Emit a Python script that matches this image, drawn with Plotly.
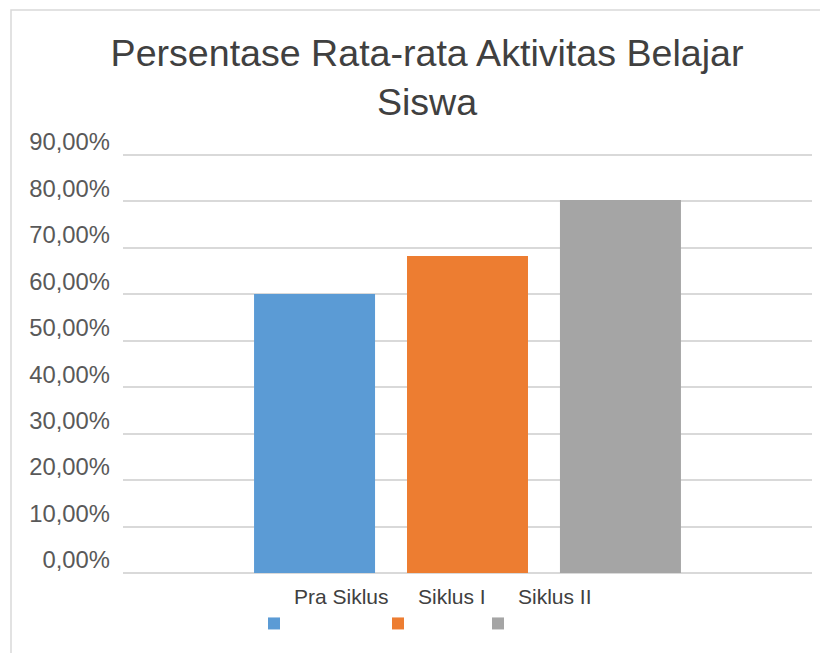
import plotly.graph_objects as go

# Data
series_names = ["Pra Siklus", "Siklus I", "Siklus II"]
series_values = [0.6007, 0.6825, 0.8031]
series_colors = ["#5B9BD5", "#ED7D31", "#A5A5A5"]
category = [""]
tick_values = [i / 10 for i in range(10)]
title_text = "Persentase Rata-rata Aktivitas Belajar<br>Siswa"

# page body has an 8px margin, so the figure is laid out 8px smaller
W, H = 820, 645
L, R, T, B = 115, 16, 145, 80
plot_h = H - T - B
y_top = 0.9 * (plot_h / (plot_h - 2))

legend_ids = ["legend", "legend2", "legend3"]
legend_x = [246, 370, 470]

fig = go.Figure()
for name, val, col, lid in zip(series_names, series_values, series_colors, legend_ids):
    fig.add_trace(go.Bar(
        x=category, y=[val], name=name + "<br>&nbsp;",
        marker=dict(color=col, line=dict(width=0)),
        hoverinfo="y+name", legend=lid,
    ))

legend_common = dict(orientation="h", xref="container", yref="container",
                     xanchor="left", y=1 - 568 / H, yanchor="top",
                     valign="bottom", bgcolor="rgba(0,0,0,0)",
                     font=dict(size=21, color="#404040"))

fig.update_layout(
    width=W, height=H,
    margin=dict(l=L, r=R, t=T, b=B, autoexpand=False),
    paper_bgcolor="white", plot_bgcolor="white",
    separators=",.",
    barmode="group", bargap=0.334, bargroupgap=0.209,
    font=dict(family="Liberation Sans, Arial, sans-serif", color="#595959"),
    title=dict(text=title_text, x=419 / W, xanchor="center",
               y=1 - 58 / H, yanchor="middle", yref="container",
               font=dict(size=37.6, color="#404040")),
    showlegend=True,
    legend=dict(x=legend_x[0] / W, **legend_common),
    legend2=dict(x=legend_x[1] / W, **legend_common),
    legend3=dict(x=legend_x[2] / W, **legend_common),
    xaxis=dict(showticklabels=False, showgrid=False, zeroline=False,
               showline=False, ticks=""),
    yaxis=dict(range=[0, y_top], tickvals=tick_values, tickformat=".2%",
               showgrid=True, gridcolor="#D9D9D9", gridwidth=1.5,
               zeroline=True, zerolinecolor="#D9D9D9", zerolinewidth=1.5,
               showline=False, ticks="", ticklabelstandoff=12,
               ticklabelshift=-13,
               tickfont=dict(size=23.8, color="#595959")),
    shapes=[dict(type="rect", xref="paper", yref="paper",
                 x0=(3 - L) / (W - L - R), x1=(W + 10 - L) / (W - L - R),
                 y0=-(H + 10 - (H - B)) / plot_h, y1=((H - B) - 2) / plot_h,
                 line=dict(color="#D9D9D9", width=1.5), fillcolor="rgba(0,0,0,0)",
                 layer="below")],
)

fig.write_html("out.html")
